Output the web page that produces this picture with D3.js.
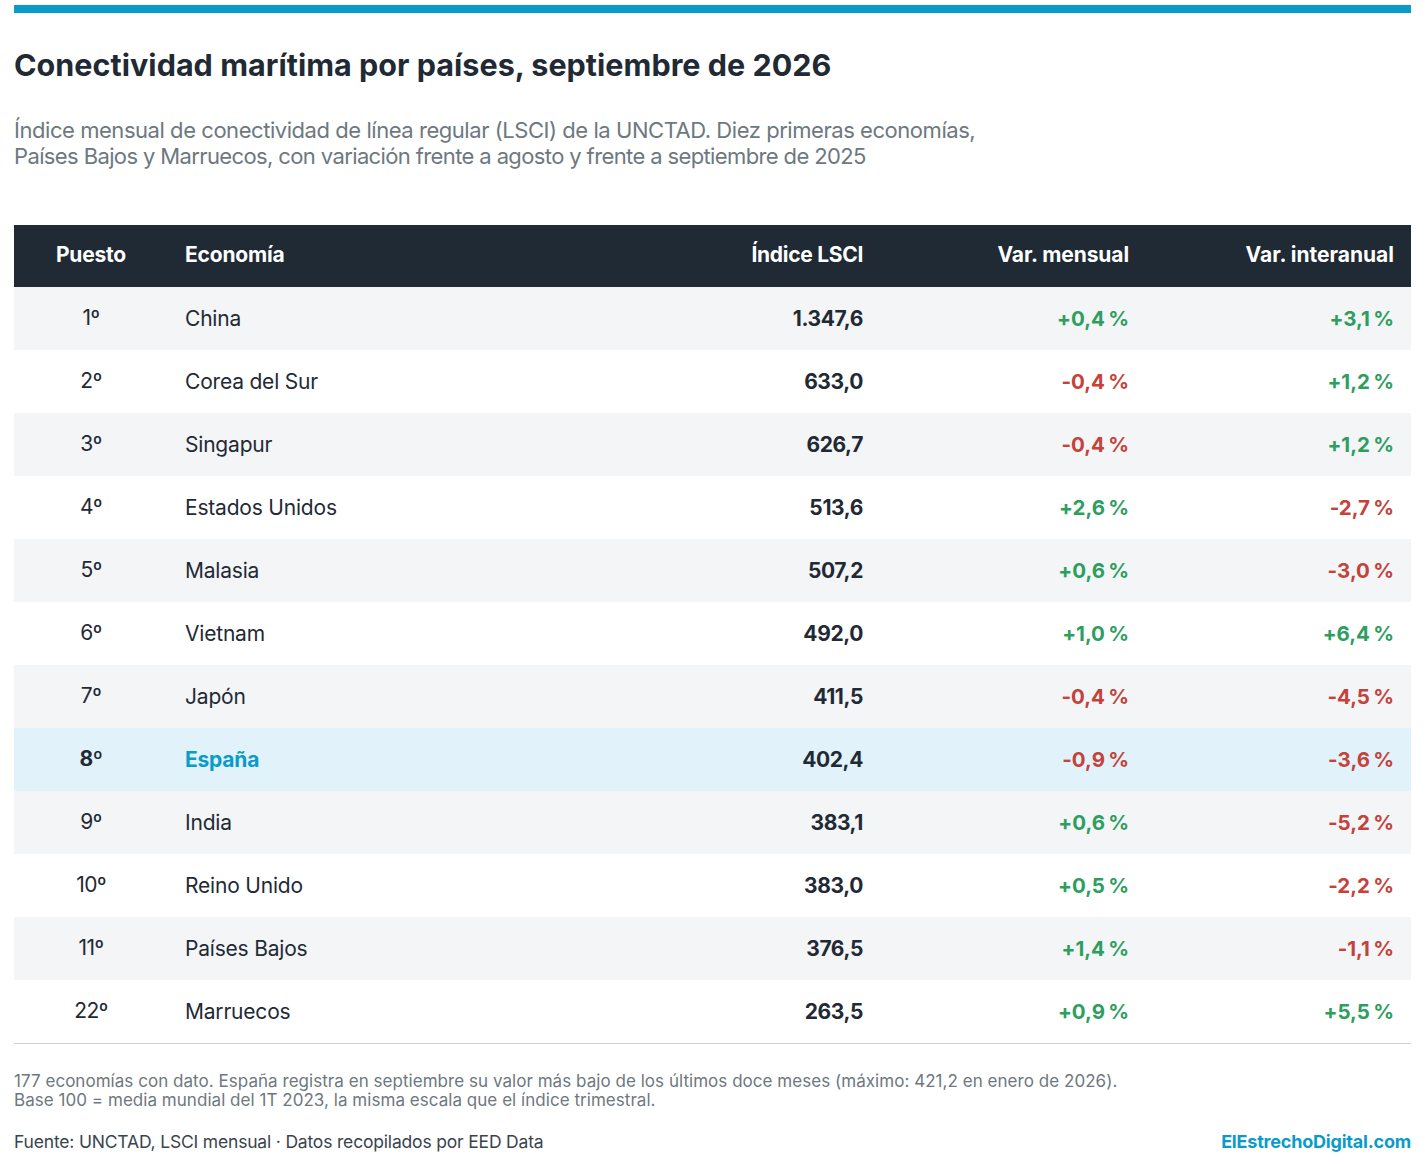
<!DOCTYPE html>
<html lang="es">
<head>
<meta charset="utf-8">
<script src="https://cdn.jsdelivr.net/npm/d3@7/dist/d3.min.js"></script>
<style>
  html, body { margin: 0; padding: 0; background: #fff; }
  svg { display: block; }
  text { font-family: Inter, "Noto Sans", sans-serif; }
</style>
</head>
<body>
<div id="chart"></div>
<script>
// data
const ranks = ["1º","2º","3º","4º","5º","6º","7º","8º","9º","10º","11º","22º"];
const economies = ["China","Corea del Sur","Singapur","Estados Unidos","Malasia","Vietnam","Japón","España","India","Reino Unido","Países Bajos","Marruecos"];
const lsci = [1347.6,633.0,626.7,513.6,507.2,492.0,411.5,402.4,383.1,383.0,376.5,263.5];
const varMonth = [0.4,-0.4,-0.4,2.6,0.6,1.0,-0.4,-0.9,0.6,0.5,1.4,0.9];
const varYear = [3.1,1.2,1.2,-2.7,-3.0,6.4,-4.5,-3.6,-5.2,-2.2,-1.1,5.5];
const headers = ["Puesto","Economía","Índice LSCI","Var. mensual","Var. interanual"];
const subtitleLines = [
  "Índice mensual de conectividad de línea regular (LSCI) de la UNCTAD. Diez primeras economías,",
  "Países Bajos y Marruecos, con variación frente a agosto y frente a septiembre de 2025"
];
const noteLines = [
  "177 economías con dato. España registra en septiembre su valor más bajo de los últimos doce meses (máximo: 421,2 en enero de 2026).",
  "Base 100 = media mundial del 1T 2023, la misma escala que el índice trimestral."
];
const sourceText = "Fuente: UNCTAD, LSCI mensual · Datos recopilados por EED Data";
const brandText = "ElEstrechoDigital.com";
const titleText = "Conectividad marítima por países, septiembre de 2026";
const highlight = "España";

const width = 1425, height = 1164;
const left = 14, right = 1411;
const dark = "#1f2a35", blue = "#0a9bc9", green = "#2e9e5f", red = "#c5423b";

// same number format as the picture: 1.347,6 and +0,4 %
const esLocale = d3.formatLocale({decimal: ",", thousands: ".", grouping: [3], currency: ["", ""]});
const fmtIndex = esLocale.format(",.1f");
const fmtVar = v => (v > 0 ? "+" : "-") + esLocale.format(".1f")(Math.abs(v)) + "\u202f%";

const svg = d3.select("#chart").append("svg")
  .attr("width", width)
  .attr("height", height)
  .attr("viewBox", `0 0 ${width} ${height}`);

svg.append("rect").attr("width", width).attr("height", height).attr("fill", "#fff");

function label(x, y, str, size, weight, fill, anchor, spacing) {
  return svg.append("text")
    .attr("x", x).attr("y", y)
    .attr("font-size", size)
    .attr("font-weight", weight)
    .attr("fill", fill)
    .attr("text-anchor", anchor || "start")
    .attr("letter-spacing", spacing || 0)
    .text(str);
}

// top bar and heading
svg.append("rect").attr("x", left).attr("y", 5).attr("width", right - left).attr("height", 8).attr("fill", blue);
label(left, 76, titleText, 30.5, 700, dark, "start", 0.03);

// the two lines run a little differently in the Inter fallback
const subtitleSpacing = [-0.45, -0.62];
subtitleLines.forEach((line, i) => {
  label(left, 138 + i * 26, line, 22, 400, "#6d7880", "start", subtitleSpacing[i]);
});

// table
const y = d3.scaleBand()
  .domain(economies)
  .range([287, 1043]);

const colX = {rank: 91, name: 185, index: 863, month: 1129, year: 1394};

svg.append("rect")
  .attr("x", left).attr("y", 225)
  .attr("width", right - left).attr("height", 62)
  .attr("fill", dark);

const headerX = [colX.rank, colX.name, colX.index, colX.month, colX.year];
const headerAnchor = ["middle", "start", "end", "end", "end"];
const headerSpacing = [-0.2, -0.2, -0.3, -0.1, 0];
headers.forEach((h, i) => {
  label(headerX[i], 262, h, 21, 700, "#fff", headerAnchor[i], headerSpacing[i]);
});

const rows = economies.map((name, i) => ({
  rank: ranks[i], name, lsci: lsci[i], month: varMonth[i], year: varYear[i], i
}));

const row = svg.selectAll("g.row")
  .data(rows)
  .enter().append("g")
  .attr("class", "row")
  .attr("transform", d => `translate(0,${y(d.name)})`);

row.append("rect")
  .attr("x", left)
  .attr("width", right - left)
  .attr("height", y.bandwidth())
  .attr("fill", d => d.name === highlight ? "#e1f2fa" : (d.i % 2 === 0 ? "#f3f5f7" : "#fff"));

row.append("text")
  .attr("x", colX.rank).attr("y", 38)
  .attr("text-anchor", "middle")
  .attr("font-size", 21)
  .attr("letter-spacing", -0.5)
  .attr("font-weight", d => d.name === highlight ? 700 : 400)
  .attr("fill", dark)
  .text(d => d.rank);

row.append("text")
  .attr("x", colX.name).attr("y", 38.5)
  .attr("font-size", 21)
  .attr("letter-spacing", -0.2)
  .attr("font-weight", d => d.name === highlight ? 700 : 400)
  .attr("fill", d => d.name === highlight ? blue : dark)
  .text(d => d.name);

row.append("text")
  .attr("x", colX.index).attr("y", 39)
  .attr("text-anchor", "end")
  .attr("font-size", 21)
  .attr("font-weight", 700)
  .attr("letter-spacing", -0.4)
  .attr("fill", dark)
  .text(d => fmtIndex(d.lsci));

row.append("text")
  .attr("x", colX.month).attr("y", 39)
  .attr("text-anchor", "end")
  .attr("font-size", 20.5)
  .attr("font-weight", 700)
  .attr("letter-spacing", -0.95)
  .attr("fill", d => d.month >= 0 ? green : red)
  .text(d => fmtVar(d.month));

row.append("text")
  .attr("x", colX.year).attr("y", 39)
  .attr("text-anchor", "end")
  .attr("font-size", 20.5)
  .attr("font-weight", 700)
  .attr("letter-spacing", -0.95)
  .attr("fill", d => d.year >= 0 ? green : red)
  .text(d => fmtVar(d.year));

// rule under the table
svg.append("line")
  .attr("x1", left).attr("x2", right)
  .attr("y1", 1043.5).attr("y2", 1043.5)
  .attr("stroke", "#cfd3d6");

// notes and source
noteLines.forEach((line, i) => {
  label(left, 1087 + i * 19, line, 17, 400, "#6d7880", "start", 0.04);
});
label(left, 1148, sourceText, 17.5, 400, "#3a444d", "start", -0.18);
label(right, 1148, brandText, 18, 700, blue, "end", -0.2);
</script>
</body>
</html>
